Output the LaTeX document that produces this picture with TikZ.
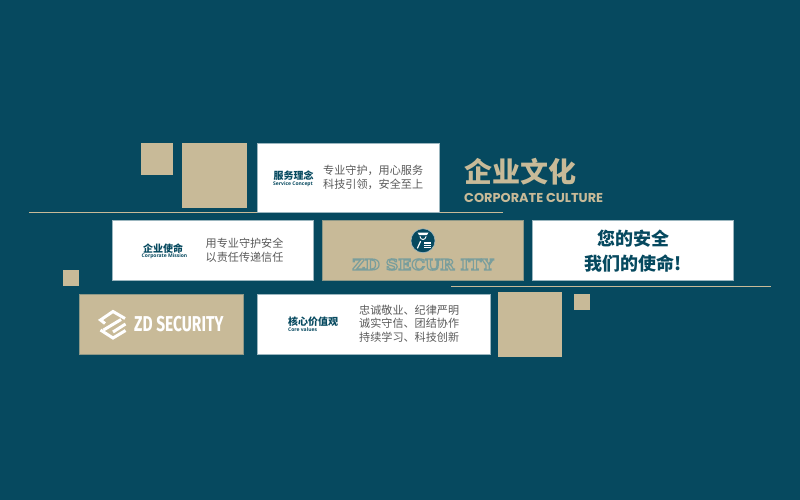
\documentclass[tikz,border=0pt]{standalone}
\usepackage{fontspec}
\setmainfont{Open Sans}
\newfontfamily\cjk{Noto Sans CJK SC}
\newfontfamily\popp{Poppins}
\newfontfamily\wide{DejaVu Serif}[FakeStretch=1.15]
\newfontfamily\cond{Fira Sans}[FakeStretch=0.72]
\definecolor{bg}{HTML}{06495F}
\definecolor{tan}{HTML}{C8BA98}
\definecolor{greytxt}{HTML}{5A5A5A}
\tikzset{
 tanbox/.style={fill=tan},
 whitebox/.style={fill=white,draw=bg!40!white,line width=.5pt},
 rule/.style={draw=tan,line width=1pt},
 head/.style={font=\cjk\bfseries\fontsize{10}{12}\selectfont,text=bg,inner sep=0},
 sub/.style={font=\bfseries\fontsize{5}{6}\selectfont,text=bg,inner sep=0},
 body/.style={font=\cjk\fontsize{11.1}{14.3}\selectfont,text=greytxt,inner sep=0,align=left},
 iconline/.style={white,line width=3pt,line join=miter},
}
\begin{document}
\begin{tikzpicture}[x=1pt,y=-1pt]
\useasboundingbox (0,0) rectangle (800,500);
\fill[bg] (0,0) rectangle (800,500);
% squares
\fill[tanbox] (141,143) rectangle (173,175);
\fill[tanbox] (182,143) rectangle (247,208);
\fill[tanbox] (63,270) rectangle (79,286);
\fill[tanbox] (498,292) rectangle (562,357);
\fill[tanbox] (574,294) rectangle (590,310);
% rules
\coordinate (r1a) at (29,212.5); \coordinate (r1b) at (503,212.5);
\coordinate (r2a) at (451,286); \coordinate (r2b) at (771,286);
\draw[rule] (r1a) -- (r1b);
\draw[rule] (r2a) -- (r2b);
% service concept
\path[whitebox] (257,143.5) rectangle (439,212);
\node[head] (h1) at (293.5,175.5) {服务理念};
\node[sub] (s1) at (293,184) {Service Concept};
\node[body,anchor=west] (b1) at (323,177.3) {专业守护，用心服务\\科技引领，安全至上};
% title
\node[font=\cjk\bfseries\fontsize{28}{30}\selectfont,text=tan,inner sep=0,anchor=west] (t1) at (464,172) {企业文化};
\node[font=\popp\bfseries\fontsize{12.9}{14}\selectfont,text=tan,inner sep=0,anchor=west] (t2) at (464,197.5) {CORPORATE CULTURE};
% mission
\path[whitebox] (112,220.5) rectangle (313,280.5);
\node[head] (h2) at (163,248.5) {企业使命};
\node[sub] (s2) at (164.5,256.5) {Corporate Mission};
\node[body,anchor=west] (b2) at (205.5,250) {用专业守护安全\\以责任传递信任};
% logo band
\path[fill=tan,draw=bg!30!tan,line width=.5pt] (322,220.5) rectangle (523.5,280.5);
\fill[bg,draw=bg!35!white,line width=.5pt] (423,240.7) circle (12);
\fill[white] (417.5,232.5) -- (428.5,232.5) -- (427,235) -- (419,235) -- cycle;
\draw[white,line width=.9pt,line cap=round] (420,236.5) .. controls (420.5,240.5) and (425.5,240.5) .. (426,236.5);
\draw[white,line width=1.2pt,line cap=round] (420.5,241.5) -- (417.5,248);
\draw[white,line width=1.2pt] (424,243) -- (430.5,243) (424,245.3) -- (430.5,245.3) (424,247.6) -- (430.5,247.6);
\node[font=\wide\bfseries\fontsize{15}{16}\selectfont,text=tan,inner sep=0] (l1) at (423,264.5) {\special{pdf: code q 1.2 w 2 Tr 0.48 0.62 0.61 RG}ZD SECUR ITY\special{pdf: code 0 Tr Q}};
% slogan
\path[whitebox] (532.5,220.5) rectangle (733.5,280.5);
\node[font=\cjk\bfseries\fontsize{18}{25}\selectfont,text=bg,inner sep=0,align=center] (sl) at (633.5,251.5) {您的安全\\我们的使命!};
% logo box
\path[fill=tan,draw=bg!30!tan,line width=.5pt] (79,294.5) rectangle (243,354.5);
\draw[iconline] (105,323.5) -- (100.5,320) -- (113,311.5) -- (125,318.5);
\draw[iconline] (121,319.5) -- (103.5,330);
\draw[iconline] (125.5,324) -- (113,332);
\draw[iconline] (100.5,330) -- (113,338) -- (125.5,330.5);
\node[font=\cond\bfseries\fontsize{21.5}{23}\selectfont,text=white,inner sep=0,anchor=west] (l2) at (134,324.5) {ZD SECURITY};
% core values
\path[whitebox] (257,294.5) rectangle (490,354.5);
\node[head] (h3) at (313,322) {核心价值观};
\node[sub,anchor=west] (s3) at (288,330) {Core values};
\node[body,anchor=west,font=\cjk\fontsize{11.1}{13.7}\selectfont] (b3) at (359,323.7) {忠诚敬业、纪律严明\\诚实守信、团结协作\\持续学习、科技创新};
\end{tikzpicture}
\end{document}
